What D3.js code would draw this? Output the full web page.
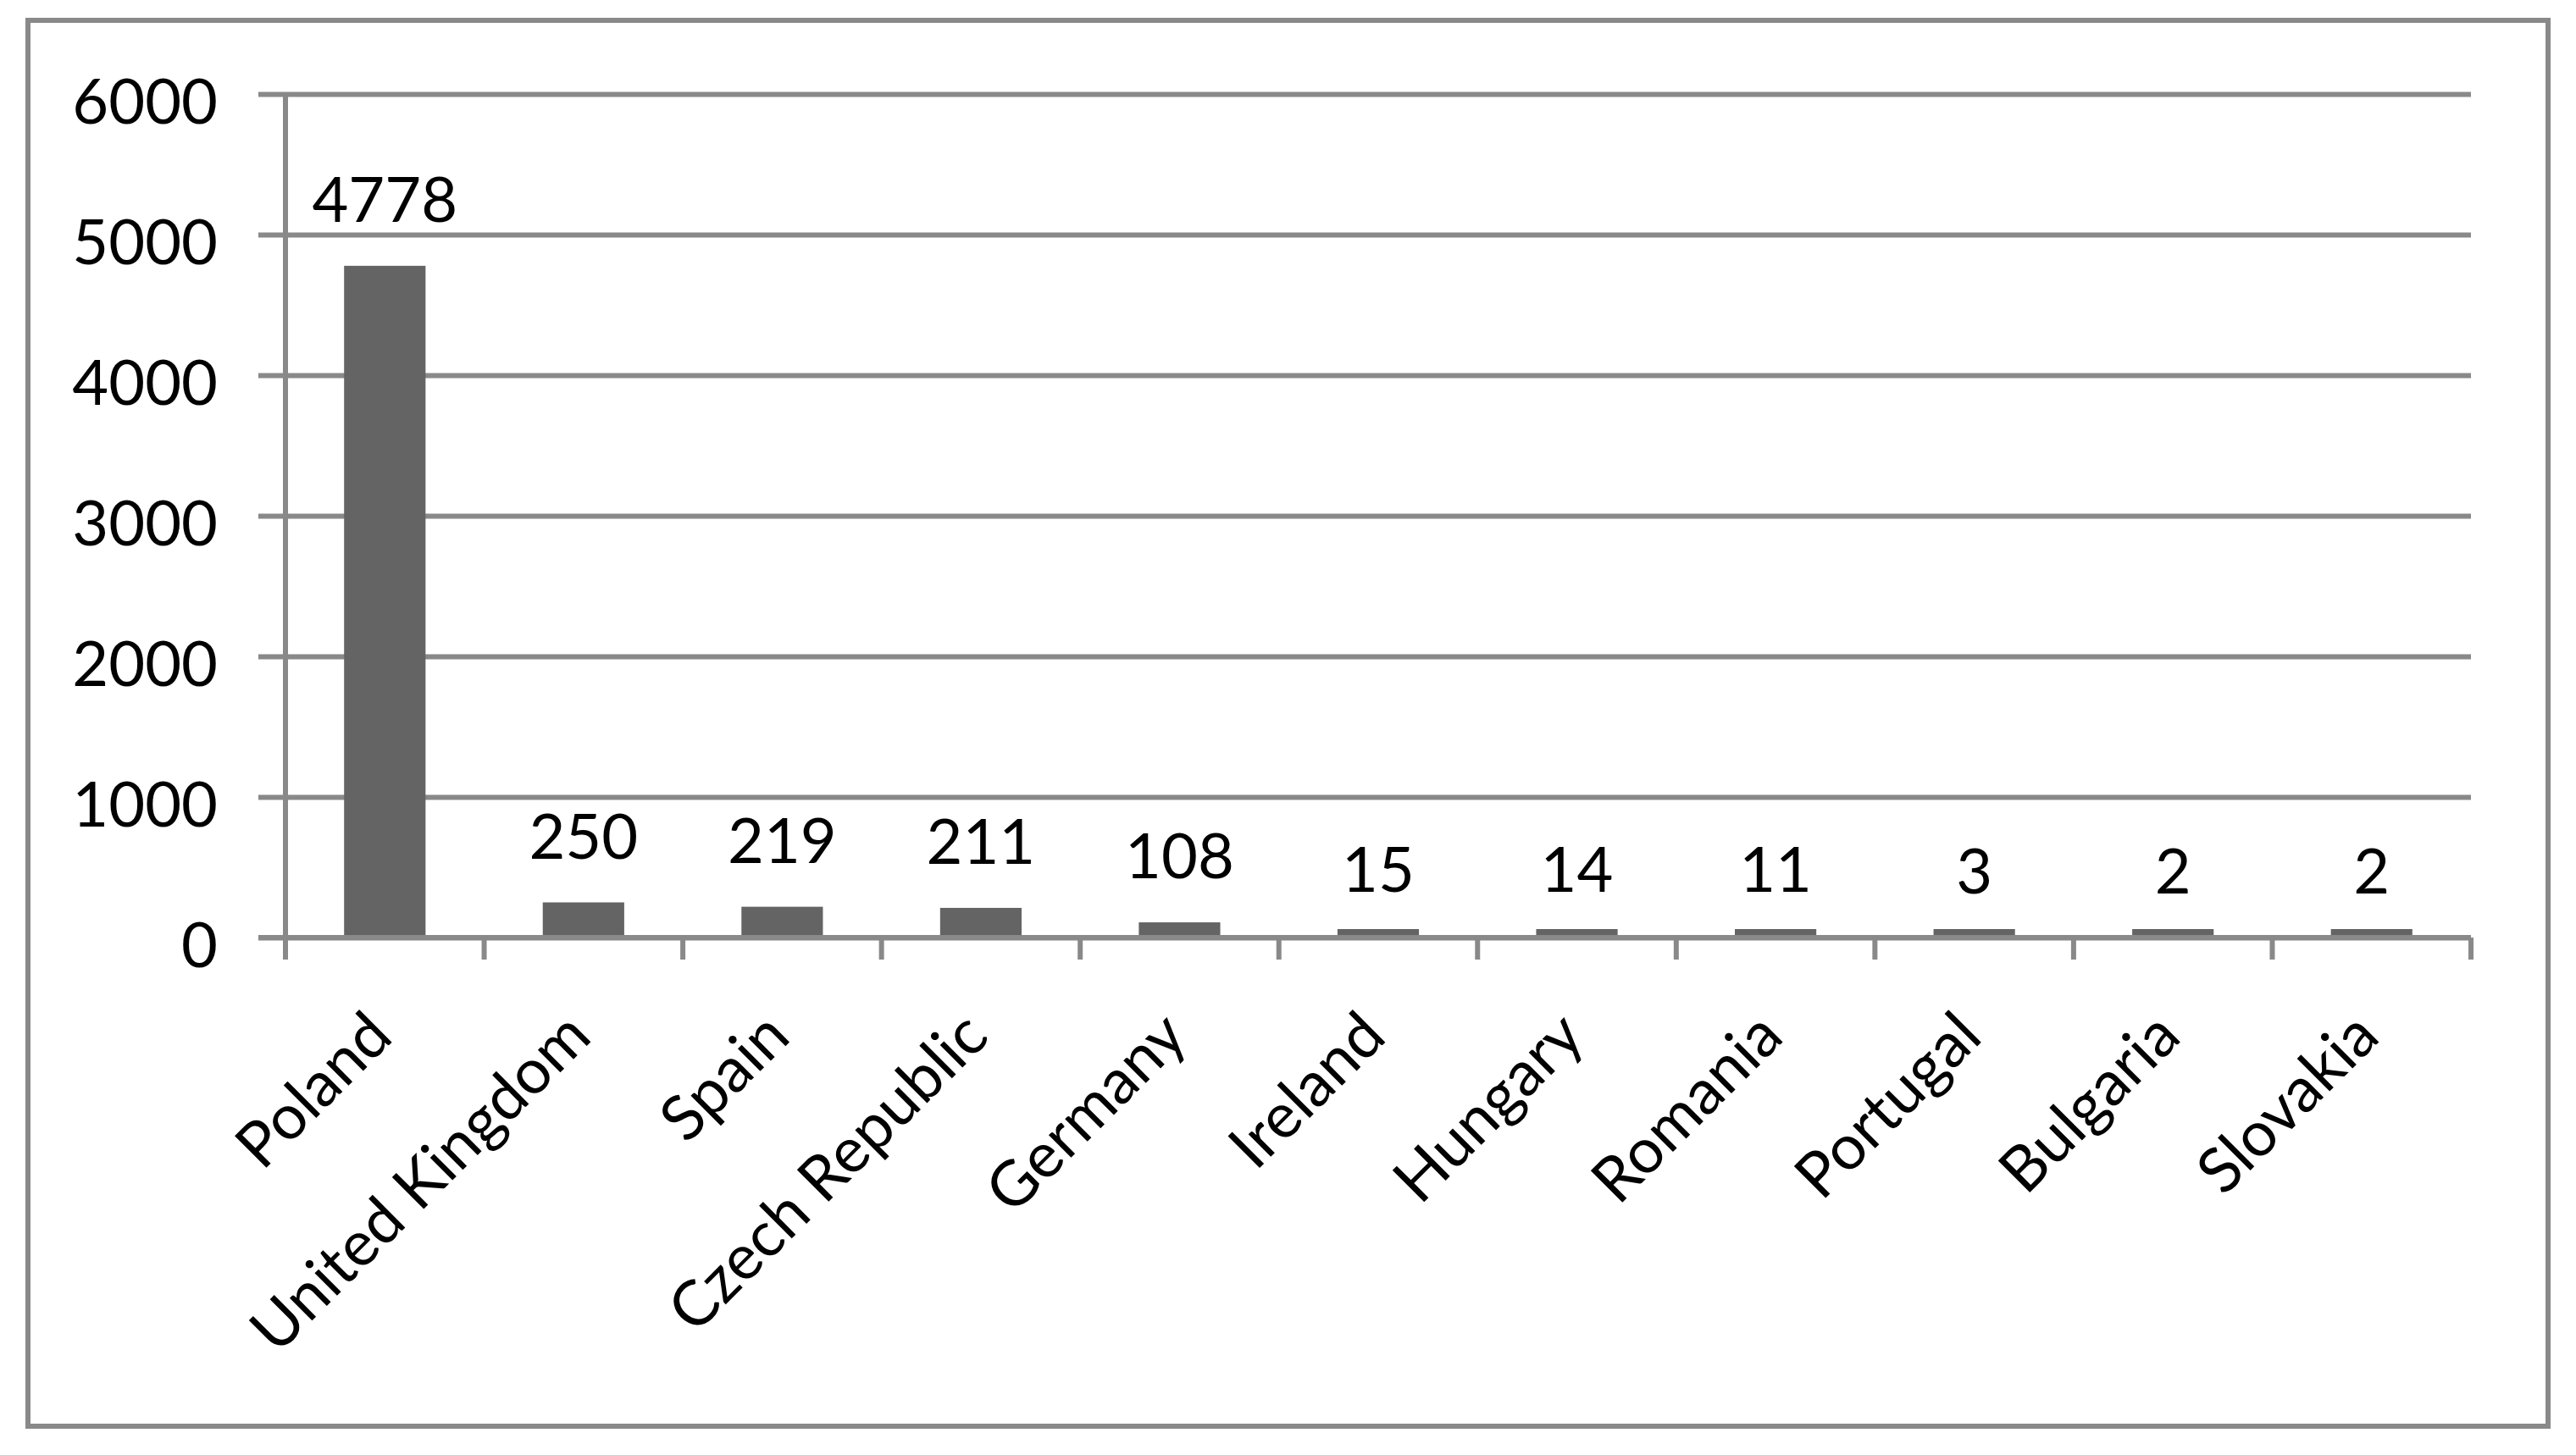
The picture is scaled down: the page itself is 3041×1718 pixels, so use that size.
<!DOCTYPE html>
<html>
<head>
<meta charset="utf-8">
<script src="https://cdn.jsdelivr.net/npm/d3@7/dist/d3.min.js"></script>
<style>
  html, body { margin: 0; padding: 0; background: #ffffff; }
  svg { display: block; }
  text { font-family: Lato, "Open Sans", sans-serif; fill: #000; }
</style>
</head>
<body>
<script>
// ---- data ----
const categories = ["Poland", "United Kingdom", "Spain", "Czech Republic", "Germany", "Ireland", "Hungary", "Romania", "Portugal", "Bulgaria", "Slovakia"];
const values = [4778, 250, 219, 211, 108, 15, 14, 11, 3, 2, 2];
const yTicks = [0, 1000, 2000, 3000, 4000, 5000, 6000];

// ---- layout ----
const W = 3041, H = 1718;
const plotLeft = 337, plotRight = 2917, plotTop = 111, plotBottom = 1107;
const gridColor = "#898989", barColor = "#646464";
const fontSize = 74;

const svg = d3.select("body").append("svg").attr("width", W).attr("height", H);

svg.append("rect").attr("width", W).attr("height", H).attr("fill", "#fff");

// outer chart border
svg.append("rect")
  .attr("x", 33).attr("y", 24)
  .attr("width", 3008 - 33).attr("height", 1684 - 24)
  .attr("fill", "none").attr("stroke", gridColor).attr("stroke-width", 6);

const y = d3.scaleLinear().domain([0, 6000]).range([plotBottom, plotTop]);
const xStep = d3.scaleBand().domain(categories).range([plotLeft, plotRight]).padding(0);
const xBar = d3.scaleBand().domain(categories).range([plotLeft, plotRight])
  .paddingInner(0.59).paddingOuter(0.295);

// y axis gridlines + labels
const tickExt = 32;
const yAxis = d3.axisLeft(y).tickValues(yTicks).tickFormat(d3.format("d"))
  .tickSize(-(plotRight - plotLeft + tickExt)).tickPadding(48);
const gy = svg.append("g").attr("transform", `translate(${plotLeft - tickExt},0)`).call(yAxis);
gy.select(".domain").remove();
gy.selectAll(".tick line").attr("stroke", gridColor).attr("stroke-width", 6);
gy.selectAll(".tick text")
  .attr("dy", "34px")
  .style("font-family", "Lato, 'Open Sans', sans-serif")
  .style("font-size", fontSize + "px")
  .attr("fill", "#000");

// bars
svg.append("g").selectAll("rect").data(categories).join("rect")
  .attr("x", d => xBar(d))
  .attr("width", xBar.bandwidth())
  .attr("y", (d, i) => Math.min(y(values[i]), y(0) - 10))
  .attr("height", (d, i) => Math.max(y(0) - y(values[i]), 10))
  .attr("fill", barColor);

// y axis line (extends below as tick)
svg.append("line")
  .attr("x1", plotLeft).attr("x2", plotLeft)
  .attr("y1", plotTop).attr("y2", plotBottom + 26)
  .attr("stroke", gridColor).attr("stroke-width", 6);

// x axis baseline
svg.append("line")
  .attr("x1", plotLeft - tickExt).attr("x2", plotRight)
  .attr("y1", plotBottom).attr("y2", plotBottom)
  .attr("stroke", gridColor).attr("stroke-width", 6);

// category tick marks at band boundaries
const boundaries = categories.map(c => xStep(c)).concat([plotRight]);
svg.append("g").selectAll("line").data(boundaries).join("line")
  .attr("x1", d => d).attr("x2", d => d)
  .attr("y1", plotBottom).attr("y2", plotBottom + 26)
  .attr("stroke", gridColor).attr("stroke-width", 6);

// value labels
svg.append("g").selectAll("text").data(categories).join("text")
  .attr("x", d => xBar(d) + xBar.bandwidth() / 2)
  .attr("y", (d, i) => y(values[i]) - 52)
  .attr("text-anchor", "middle")
  .style("font-size", fontSize + "px")
  .text((d, i) => values[i]);

// category labels rotated -45
svg.append("g").selectAll("text").data(categories).join("text")
  .attr("transform", d => `translate(${xStep(d) + xStep.bandwidth() / 2 + 12},${plotBottom + 120}) rotate(-45)`)
  .attr("text-anchor", "end")
  .style("font-size", fontSize + "px")
  .text(d => d);
</script>
</body>
</html>
